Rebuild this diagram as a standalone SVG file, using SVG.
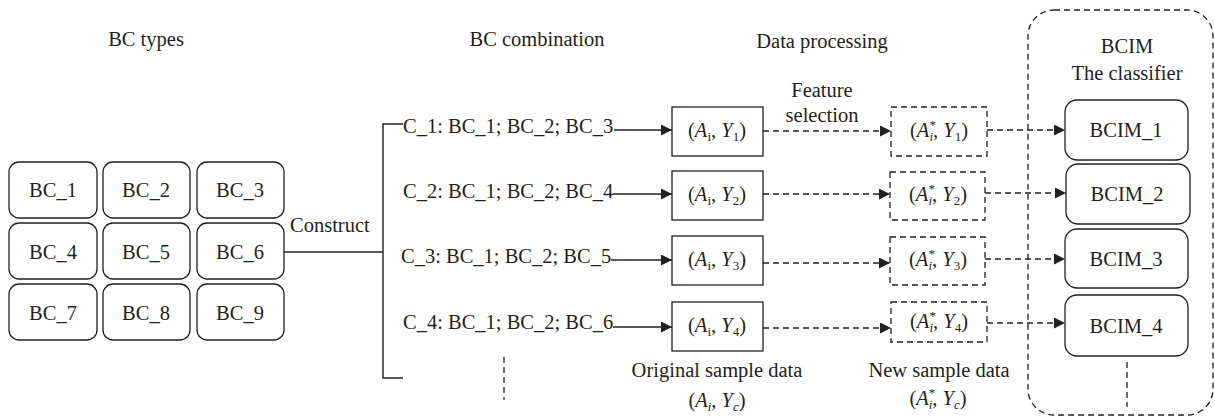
<svg xmlns="http://www.w3.org/2000/svg" width="1215" height="420" viewBox="0 0 1215 420">
<style>
text{font-family:"Liberation Serif","DejaVu Serif",serif;font-size:20.5px;fill:#231f20}
.t{text-anchor:middle}
.it{font-style:italic}
.sub{font-size:13px}
.box{fill:#fff;stroke:#231f20;stroke-width:1.3}
.dbox{fill:#fff;stroke:#231f20;stroke-width:1.3;stroke-dasharray:6,4}
.ln{fill:none;stroke:#231f20;stroke-width:1.4}
.dl{fill:none;stroke:#231f20;stroke-width:1.3;stroke-dasharray:6,4}
</style>
<defs>
<marker id="ah" viewBox="0 0 10 10" refX="10" refY="5" markerUnits="userSpaceOnUse" markerWidth="12" markerHeight="11" orient="auto">
<path d="M0,0 L10,5 L0,10 z" fill="#231f20"/>
</marker>
</defs>
<rect width="1215" height="420" fill="#fff"/>

<g id="titles">
<text class="t" x="146" y="46" font-family="Liberation Serif">BC types</text>
<text class="t" x="537" y="46">BC combination</text>
<text class="t" x="822" y="48">Data processing</text>
<text class="t" x="1127" y="53">BCIM</text>
<text class="t" x="1127" y="80">The classifier</text>
<text class="t" x="822" y="97">Feature</text>
<text class="t" x="822" y="122">selection</text>
<text x="290" y="232">Construct</text>
</g>

<g id="container"><rect class="dl" x="1028" y="10" width="185" height="405" rx="26"/></g>

<g id="bc-grid">
<g id="bc1"><rect class="box" x="9" y="162" width="88" height="56" rx="10"/><text class="t" x="53" y="197">BC_1</text></g>
<g id="bc2"><rect class="box" x="103" y="162" width="87" height="56" rx="10"/><text class="t" x="146" y="197">BC_2</text></g>
<g id="bc3"><rect class="box" x="197" y="162" width="87" height="56" rx="10"/><text class="t" x="240" y="197">BC_3</text></g>
<g id="bc4"><rect class="box" x="9" y="223" width="88" height="56" rx="10"/><text class="t" x="53" y="259">BC_4</text></g>
<g id="bc5"><rect class="box" x="103" y="223" width="87" height="56" rx="10"/><text class="t" x="146" y="259">BC_5</text></g>
<g id="bc6"><rect class="box" x="197" y="223" width="87" height="56" rx="10"/><text class="t" x="240" y="259">BC_6</text></g>
<g id="bc7"><rect class="box" x="9" y="284" width="88" height="56" rx="10"/><text class="t" x="53" y="320">BC_7</text></g>
<g id="bc8"><rect class="box" x="103" y="284" width="87" height="56" rx="10"/><text class="t" x="146" y="320">BC_8</text></g>
<g id="bc9"><rect class="box" x="197" y="284" width="87" height="56" rx="10"/><text class="t" x="240" y="320">BC_9</text></g>
</g>

<g id="combinations">
<text x="403" y="133">C_1: BC_1; BC_2; BC_3</text>
<text x="403" y="198">C_2: BC_1; BC_2; BC_4</text>
<text x="401" y="263">C_3: BC_1; BC_2; BC_5</text>
<text x="403" y="329">C_4: BC_1; BC_2; BC_6</text>
</g>

<g id="orig">
<g id="o1"><rect class="box" x="672" y="107" width="91" height="49"/><text class="t" x="717" y="137">(<tspan class="it">A</tspan><tspan class="sub" dy="4">i</tspan><tspan dy="-4">, </tspan><tspan class="it">Y</tspan><tspan class="sub" dy="4">1</tspan><tspan dy="-4">)</tspan></text></g>
<g id="o2"><rect class="box" x="672" y="171" width="91" height="49"/><text class="t" x="717" y="201">(<tspan class="it">A</tspan><tspan class="sub" dy="4">i</tspan><tspan dy="-4">, </tspan><tspan class="it">Y</tspan><tspan class="sub" dy="4">2</tspan><tspan dy="-4">)</tspan></text></g>
<g id="o3"><rect class="box" x="672" y="236" width="91" height="49"/><text class="t" x="717" y="266">(<tspan class="it">A</tspan><tspan class="sub" dy="4">i</tspan><tspan dy="-4">, </tspan><tspan class="it">Y</tspan><tspan class="sub" dy="4">3</tspan><tspan dy="-4">)</tspan></text></g>
<g id="o4"><rect class="box" x="672" y="302" width="91" height="49"/><text class="t" x="717" y="332">(<tspan class="it">A</tspan><tspan class="sub" dy="4">i</tspan><tspan dy="-4">, </tspan><tspan class="it">Y</tspan><tspan class="sub" dy="4">4</tspan><tspan dy="-4">)</tspan></text></g>
<text class="t" x="717" y="377">Original sample data</text>
<text class="t" x="717" y="407">(<tspan class="it">A</tspan><tspan class="sub it" dy="4">i</tspan><tspan dy="-4">, </tspan><tspan class="it">Y</tspan><tspan class="sub it" dy="4">c</tspan><tspan dy="-4">)</tspan></text>
</g>

<g id="new">
<g id="n1"><rect class="dbox" x="891" y="107" width="96" height="49"/><text class="t" x="939" y="137">(<tspan class="it">A</tspan><tspan class="sub" dy="-8">*</tspan><tspan class="sub it" dx="-6.5" dy="12">i</tspan><tspan dy="-4">, </tspan><tspan class="it">Y</tspan><tspan class="sub" dy="4">1</tspan><tspan dy="-4">)</tspan></text></g>
<g id="n2"><rect class="dbox" x="890" y="172" width="95" height="48"/><text class="t" x="938" y="201">(<tspan class="it">A</tspan><tspan class="sub" dy="-8">*</tspan><tspan class="sub it" dx="-6.5" dy="12">i</tspan><tspan dy="-4">, </tspan><tspan class="it">Y</tspan><tspan class="sub" dy="4">2</tspan><tspan dy="-4">)</tspan></text></g>
<g id="n3"><rect class="dbox" x="890" y="237" width="95" height="48"/><text class="t" x="938" y="266">(<tspan class="it">A</tspan><tspan class="sub" dy="-8">*</tspan><tspan class="sub it" dx="-6.5" dy="12">i</tspan><tspan dy="-4">, </tspan><tspan class="it">Y</tspan><tspan class="sub" dy="4">3</tspan><tspan dy="-4">)</tspan></text></g>
<g id="n4"><rect class="dbox" x="891" y="302" width="96" height="40"/><text class="t" x="939" y="328">(<tspan class="it">A</tspan><tspan class="sub" dy="-8">*</tspan><tspan class="sub it" dx="-6.5" dy="12">i</tspan><tspan dy="-4">, </tspan><tspan class="it">Y</tspan><tspan class="sub" dy="4">4</tspan><tspan dy="-4">)</tspan></text></g>
<text class="t" x="939" y="377">New sample data</text>
<text class="t" x="938" y="405">(<tspan class="it">A</tspan><tspan class="sub" dy="-8">*</tspan><tspan class="sub it" dx="-6.5" dy="12">i</tspan><tspan dy="-4">, </tspan><tspan class="it">Y</tspan><tspan class="sub it" dy="4">c</tspan><tspan dy="-4">)</tspan></text>
</g>

<g id="bcim">
<g id="m1"><rect class="box" x="1065" y="100" width="123" height="60" rx="12"/><text class="t" x="1126" y="137">BCIM_1</text></g>
<g id="m2"><rect class="box" x="1066" y="164" width="124" height="60" rx="12"/><text class="t" x="1127" y="201">BCIM_2</text></g>
<g id="m3"><rect class="box" x="1065" y="229" width="123" height="59" rx="12"/><text class="t" x="1126" y="266">BCIM_3</text></g>
<g id="m4"><rect class="box" x="1065" y="295" width="123" height="61" rx="12"/><text class="t" x="1126" y="333">BCIM_4</text></g>
</g>

<g id="connectors">
<polyline class="ln" points="284,252 383,252"/>
<polyline class="ln" points="403,124 383,124 383,378 403,378"/>
<line class="dl" x1="504" y1="357" x2="504" y2="400"/>
<line class="ln" x1="614" y1="130" x2="672" y2="130" marker-end="url(#ah)"/>
<line class="ln" x1="613" y1="194" x2="672" y2="194" marker-end="url(#ah)"/>
<line class="ln" x1="611" y1="260" x2="672" y2="260" marker-end="url(#ah)"/>
<line class="ln" x1="613" y1="327" x2="672" y2="327" marker-end="url(#ah)"/>
<line class="dl" x1="763" y1="131" x2="891" y2="131" marker-end="url(#ah)"/>
<line class="dl" x1="763" y1="194" x2="890" y2="194" marker-end="url(#ah)"/>
<line class="dl" x1="763" y1="263" x2="890" y2="263" marker-end="url(#ah)"/>
<line class="dl" x1="763" y1="328" x2="891" y2="328" marker-end="url(#ah)"/>
<line class="dl" x1="987" y1="130" x2="1065" y2="130" marker-end="url(#ah)"/>
<line class="dl" x1="985" y1="193" x2="1066" y2="193" marker-end="url(#ah)"/>
<line class="dl" x1="985" y1="259" x2="1065" y2="259" marker-end="url(#ah)"/>
<line class="dl" x1="987" y1="323" x2="1065" y2="323" marker-end="url(#ah)"/>
<line class="dl" x1="1127" y1="362" x2="1127" y2="407"/>
</g>
</svg>
